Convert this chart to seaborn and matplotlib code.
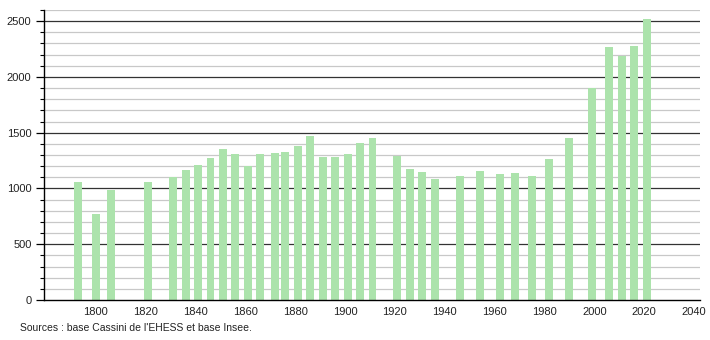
import matplotlib
matplotlib.use("Agg")
import matplotlib.pyplot as plt
import seaborn as sns
import pandas as pd
import numpy as np
from matplotlib.ticker import MultipleLocator

years = [1793, 1800, 1806, 1821, 1831, 1836, 1841, 1846, 1851, 1856, 1861, 1866,
         1872, 1876, 1881, 1886, 1891, 1896, 1901, 1906, 1911, 1921, 1926, 1931,
         1936, 1946, 1954, 1962, 1968, 1975, 1982, 1990, 1999, 2006, 2011, 2016, 2021]
population = [1057, 768, 985, 1055, 1100, 1165, 1210, 1270, 1350, 1308, 1200, 1305,
              1315, 1325, 1385, 1470, 1280, 1280, 1305, 1408, 1448, 1290, 1175, 1145,
              1085, 1110, 1160, 1130, 1140, 1110, 1265, 1452, 1902, 2265, 2185, 2275, 2522]
x_ticks = [1800, 1820, 1840, 1860, 1880, 1900, 1920, 1940, 1960, 1980, 2000, 2020, 2040]
y_ticks = [0, 500, 1000, 1500, 2000, 2500]
source_text = "Sources : base Cassini de l'EHESS et base Insee."

df = pd.DataFrame({"year": years, "population": population})

sns.set_style("white")
plt.rcParams["font.family"] = ["Liberation Sans", "DejaVu Sans"]

fig = plt.figure(figsize=(7.1, 3.4), dpi=100)
ax = fig.add_axes([44 / 710, 40 / 340, 656 / 710, 290 / 340])

# grid lines
for v in range(100, 2700, 100):
    if v % 500 == 0:
        ax.axhline(v, color="#333333", lw=0.9, zorder=0)
    else:
        ax.axhline(v, color="#c8c8c8", lw=0.9, zorder=0)

bar_years = 3.2
min_gap = float(np.min(np.diff(years)))
sns.barplot(data=df, x="year", y="population", native_scale=True,
            width=bar_years / min_gap,
            color="#ace3ac", saturation=1, ax=ax, zorder=2, edgecolor="none")

ax.set_xlim(1779.2, 2042.4)
ax.set_ylim(0, 2600)
ax.set_xticks(x_ticks)
ax.set_yticks(y_ticks)
ax.yaxis.set_minor_locator(MultipleLocator(100))
ax.set_xlabel("")
ax.set_ylabel("")
for s in ["top", "right"]:
    ax.spines[s].set_visible(False)
for s in ["left", "bottom"]:
    ax.spines[s].set_color("black")
    ax.spines[s].set_linewidth(1.0)
ax.tick_params(axis="y", which="major", length=6, width=0.9, color="black",
               labelsize=8, pad=3, left=True)
ax.tick_params(axis="y", which="minor", length=3, width=0.8, color="black", left=True)
ax.tick_params(axis="x", which="major", length=0, labelsize=8, pad=5)
for lab in ax.get_xticklabels() + ax.get_yticklabels():
    lab.set_color("#222222")

fig.text(20 / 710, 1 - 328 / 340, source_text, fontsize=7.5, color="#222222",
         va="center", ha="left")

fig.savefig("out.png", dpi=100)
